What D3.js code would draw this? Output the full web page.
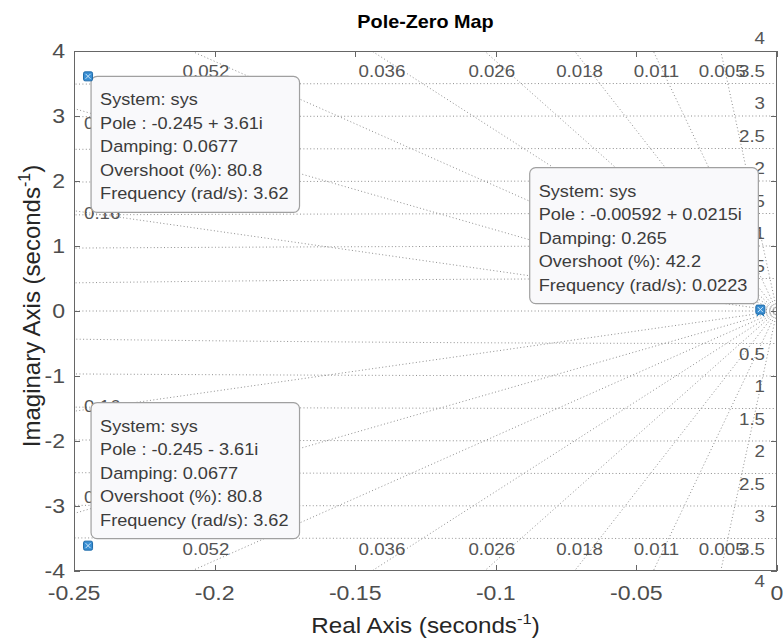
<!DOCTYPE html>
<html>
<head>
<meta charset="utf-8">
<script src="https://cdn.jsdelivr.net/npm/d3@7"></script>
<style>
  html, body { margin: 0; padding: 0; background: #ffffff; }
  svg { display: block; font-family: "Liberation Sans", Arial, Helvetica, sans-serif; }
</style>
</head>
<body>
<svg id="chart" width="783" height="642"></svg>
<script>
// ---- axis ticks ----
const xTicks = [-0.25, -0.2, -0.15, -0.1, -0.05, 0];
const xTickLabels = ["-0.25", "-0.2", "-0.15", "-0.1", "-0.05", "0"];
const yTicks = [-4, -3, -2, -1, 0, 1, 2, 3, 4];
const yTickLabels = ["-4", "-3", "-2", "-1", "0", "1", "2", "3", "4"];

// ---- s-plane grid: damping rays and natural-frequency circles ----
const dampingValues = [0.005, 0.011, 0.018, 0.026, 0.036, 0.052, 0.08, 0.16];
const dampingLabels = ["0.005", "0.011", "0.018", "0.026", "0.036", "0.052", "0.08", "0.16"];
const frequencyValues = [0.5, 1, 1.5, 2, 2.5, 3, 3.5, 4];
const frequencyLabels = ["0.5", "1", "1.5", "2", "2.5", "3", "3.5", "4"];

// ---- poles of sys ----
const poleRe = [-0.245, -0.245, -0.00592, -0.00592];
const poleIm = [3.61, -3.61, 0.0215, -0.0215];

// ---- data tips (index into the pole arrays) ----
const tipPoleIndex = [0, 1, 2];
const tipPoleText = ["-0.245 + 3.61i", "-0.245 - 3.61i", "-0.00592 + 0.0215i"];
const tipDamping = ["0.0677", "0.0677", "0.265"];
const tipOvershoot = ["80.8", "80.8", "42.2"];
const tipFrequency = ["3.62", "3.62", "0.0223"];
const tipCorner = ["top-left", "bottom-left", "bottom-right"];

const W = 783, H = 642;
const margin = { top: 51, right: 6, bottom: 71, left: 74 };
const SX = 1.1; // horizontal glyph stretch

const svg = d3.select("#chart");
const x = d3.scaleLinear().domain([-0.25, 0]).range([margin.left, W - margin.right]);
const y = d3.scaleLinear().domain([-4, 4]).range([H - margin.bottom, margin.top]);

function label(g, px, py, str, size, color, anchor, weight) {
  return g.append("text")
    .attr("transform", `translate(${px},${py}) scale(${SX},1)`)
    .attr("text-anchor", anchor || "start")
    .attr("font-size", size)
    .attr("font-weight", weight || "normal")
    .attr("fill", color)
    .text(str);
}

svg.append("defs").append("clipPath").attr("id", "plotClip")
  .append("rect")
  .attr("x", x(-0.25)).attr("y", y(4))
  .attr("width", x(0) - x(-0.25)).attr("height", y(-4) - y(4));

const gridColor = "#8f8f8f";
const grid = svg.append("g").attr("clip-path", "url(#plotClip)")
  .attr("fill", "none").attr("stroke", gridColor)
  .attr("stroke-width", 1).attr("stroke-dasharray", "1,2.4");

const line = d3.line().x(d => x(d[0])).y(d => y(d[1]));

// damping rays (both halves) plus the real axis (zeta = 1)
const R = 10;
dampingValues.forEach(z => {
  const s = Math.sqrt(1 - z * z);
  grid.append("path").attr("d", line([[0, 0], [-R * z, R * s]]));
  grid.append("path").attr("d", line([[0, 0], [-R * z, -R * s]]));
});
grid.append("path").attr("d", line([[0, 0], [-R, 0]]));

// natural-frequency circles (left half-plane)
frequencyValues.forEach(r => {
  const pts = d3.range(0, 2001).map(i => {
    const t = Math.PI * i / 2000;
    return [-r * Math.sin(t), r * Math.cos(t)];
  });
  grid.append("path").attr("d", line(pts));
});

// grid labels
const gl = svg.append("g");
const gridLabelColor = "#555555";
const leftLabelLimit = 2.9; // keep left-edge damping labels off the corners
dampingValues.forEach((z, i) => {
  const k = z / Math.sqrt(1 - z * z);
  if (z < 0.06) {
    label(gl, x(-3.9 * k), y(4) + 26, dampingLabels[i], 17, gridLabelColor, "middle");
    label(gl, x(-3.9 * k), y(-4) - 16, dampingLabels[i], 17, gridLabelColor, "middle");
  } else {
    const yy = Math.min(0.245 / k, leftLabelLimit);
    label(gl, x(-0.25) + 10, y(yy) + 6, dampingLabels[i], 17, gridLabelColor, "start");
    label(gl, x(-0.25) + 10, y(-yy) + 3, dampingLabels[i], 17, gridLabelColor, "start");
  }
});
frequencyValues.forEach((r, i) => {
  label(gl, x(0) - 12, y(r) - 7, frequencyLabels[i], 17, gridLabelColor, "end");
  label(gl, x(0) - 12, y(-r) + 16, frequencyLabels[i], 17, gridLabelColor, "end");
});

// axes frame and ticks
const axisColor = "#666666";
const tickLen = 6;
const ax = svg.append("g").attr("stroke", axisColor).attr("stroke-width", 1).attr("fill", "none");
ax.append("rect")
  .attr("x", x(-0.25) + 0.5).attr("y", y(4) + 0.5)
  .attr("width", x(0) - x(-0.25) - 1).attr("height", y(-4) - y(4) - 1);
xTicks.forEach(v => {
  const px = Math.round(x(v)) + 0.5;
  ax.append("line").attr("x1", px).attr("x2", px).attr("y1", y(-4)).attr("y2", y(-4) - tickLen);
  ax.append("line").attr("x1", px).attr("x2", px).attr("y1", y(4)).attr("y2", y(4) + tickLen);
});
yTicks.forEach(v => {
  const py = Math.round(y(v)) + 0.5;
  ax.append("line").attr("x1", x(-0.25)).attr("x2", x(-0.25) + tickLen).attr("y1", py).attr("y2", py);
  ax.append("line").attr("x1", x(0)).attr("x2", x(0) - tickLen).attr("y1", py).attr("y2", py);
});

const tickColor = "#4d4d4d";
const tl = svg.append("g");
xTicks.forEach((v, i) => label(tl, x(v), y(-4) + 29, xTickLabels[i], 21, tickColor, "middle"));
yTicks.forEach((v, i) => label(tl, x(-0.25) - 9, y(v) + 6.5, yTickLabels[i], 21, tickColor, "end"));

// title and axis labels
label(svg, (x(-0.25) + x(0)) / 2, 28, "Pole-Zero Map", 18, "#000000", "middle", "bold");

const xl = svg.append("text")
  .attr("transform", `translate(${(x(-0.25) + x(0)) / 2},633) scale(${SX},1)`)
  .attr("text-anchor", "middle").attr("font-size", 22).attr("fill", "#262626");
xl.append("tspan").text("Real Axis (seconds");
xl.append("tspan").attr("font-size", 15).attr("dy", -9).text("-1");
xl.append("tspan").attr("dy", 9).text(")");

const yl = svg.append("text")
  .attr("transform", `translate(40,306) rotate(-90)`)
  .attr("text-anchor", "middle").attr("font-size", 24).attr("fill", "#262626");
yl.append("tspan").text("Imaginary Axis (seconds");
yl.append("tspan").attr("font-size", 16).attr("dy", -10).text("-1");
yl.append("tspan").attr("dy", 10).text(")");

// pole markers (x)
const poleColor = "#0072BD";
const pm = svg.append("g").attr("stroke", poleColor).attr("stroke-width", 1.2);
poleRe.forEach((re, i) => {
  const px = x(re), py = y(poleIm[i]), s = 3.5;
  pm.append("line").attr("x1", px - s).attr("y1", py - s).attr("x2", px + s).attr("y2", py + s);
  pm.append("line").attr("x1", px - s).attr("y1", py + s).attr("x2", px + s).attr("y2", py - s);
});

// data tips
const tips = svg.append("g");
tipPoleIndex.forEach((pi, t) => {
  const px = x(poleRe[pi]), py = y(poleIm[pi]);
  const g = tips.append("g");
  const lines = [
    "System: sys",
    "Pole : " + tipPoleText[t],
    "Damping: " + tipDamping[t],
    "Overshoot (%): " + tipOvershoot[t],
    "Frequency (rad/s): " + tipFrequency[t]
  ];
  const rect = g.append("rect").attr("rx", 6).attr("ry", 6)
    .attr("fill", "#f9f9fb").attr("stroke", "#a0a0a0").attr("stroke-width", 1.2);
  const texts = lines.map((s, i) => label(g, 0, 0, s, 16.5, "#3c3c3c", "start"));
  const tw = d3.max(texts, tx => tx.node().getComputedTextLength()) * SX;
  const bw = tw + 20, bh = 136;
  let bx, by;
  if (tipCorner[t] === "top-left") { bx = px + 3; by = py; }
  else if (tipCorner[t] === "bottom-left") { bx = px + 3; by = py - 7 - bh; }
  else { bx = px - 2 - bw; by = py - 6 - bh; }
  rect.attr("x", bx).attr("y", by).attr("width", bw).attr("height", bh);
  texts.forEach((tx, i) => tx.attr("transform", `translate(${bx + 9},${by + 29 + i * 23.5}) scale(${SX},1)`));

  // data-tip marker
  const m = g.append("g");
  m.append("rect").attr("x", px - 4.5).attr("y", py - 4.5).attr("width", 9).attr("height", 9).attr("rx", 1.5)
    .attr("fill", "#3a8fd3").attr("stroke", "#1f6aa8").attr("stroke-width", 1);
  m.append("path").attr("d", `M${px - 2.5},${py - 2.5}L${px + 2.5},${py + 2.5}M${px - 2.5},${py + 2.5}L${px + 2.5},${py - 2.5}`)
    .attr("stroke", "#cfe7fa").attr("stroke-width", 1);
});
</script>
</body>
</html>
